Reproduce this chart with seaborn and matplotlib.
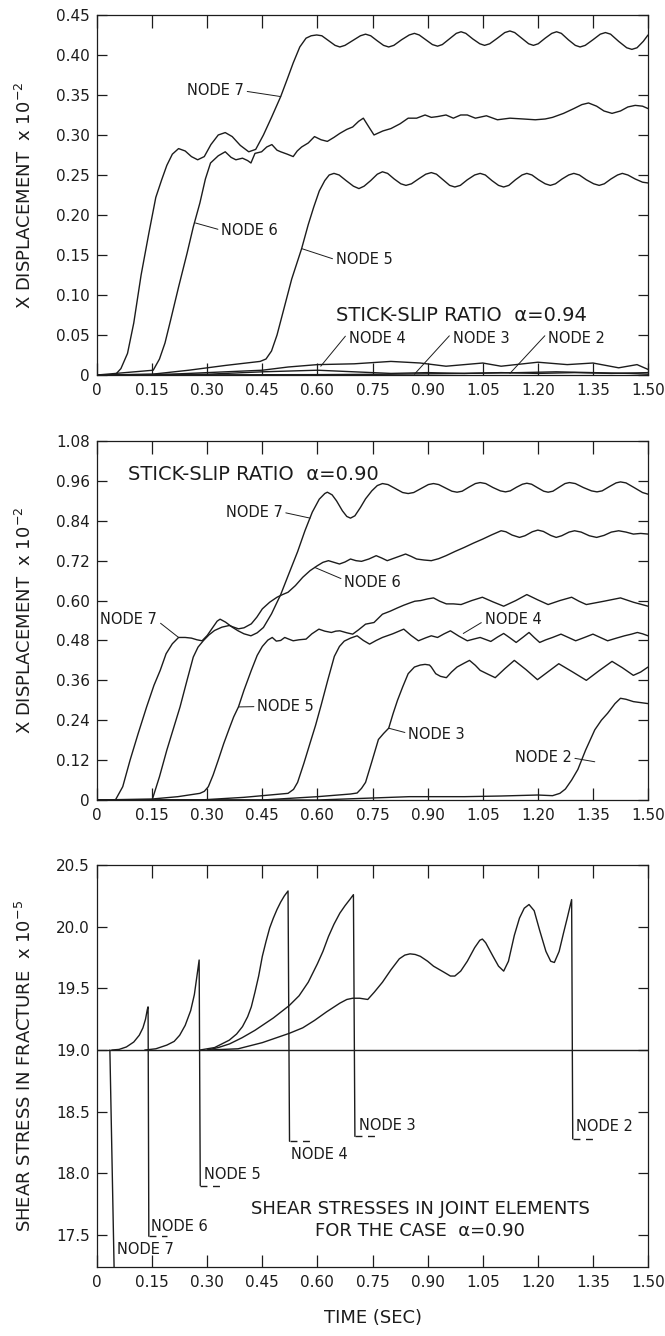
import seaborn as sns
import matplotlib.pyplot as plt

# --- data: (time, value) pairs ---------------------------------------------
x_ticks = [0, 0.15, 0.30, 0.45, 0.60, 0.75, 0.90, 1.05, 1.20, 1.35, 1.50]
x_labels = ['0', '0.15', '0.30', '0.45', '0.60', '0.75', '0.90', '1.05', '1.20', '1.35', '1.50']

y1_ticks = [0, 0.05, 0.10, 0.15, 0.20, 0.25, 0.30, 0.35, 0.40, 0.45]
y1_labels = ['0', '0.05', '0.10', '0.15', '0.20', '0.25', '0.30', '0.35', '0.40', '0.45']
y2_ticks = [0, 0.12, 0.24, 0.36, 0.48, 0.60, 0.72, 0.84, 0.96, 1.08]
y2_labels = ['0', '0.12', '0.24', '0.36', '0.48', '0.60', '0.72', '0.84', '0.96', '1.08']
y3_ticks = [17.5, 18.0, 18.5, 19.0, 19.5, 20.0, 20.5]
y3_labels = ['17.5', '18.0', '18.5', '19.0', '19.5', '20.0', '20.5']

# panel 1, alpha = 0.94
a_node7 = [(0, 0), (0.049, 0), (0.065, 0.008), (0.083, 0.027), (0.1, 0.065), (0.12, 0.125), (0.141, 0.177),
           (0.16, 0.222), (0.176, 0.244), (0.19, 0.262), (0.205, 0.276), (0.222, 0.283), (0.24, 0.28),
           (0.257, 0.273), (0.274, 0.269), (0.292, 0.273), (0.31, 0.288), (0.33, 0.3), (0.349, 0.303),
           (0.368, 0.298), (0.39, 0.287), (0.413, 0.279), (0.432, 0.282), (0.453, 0.3), (0.475, 0.322),
           (0.5, 0.348), (0.518, 0.37), (0.534, 0.39), (0.552, 0.41), (0.569, 0.421), (0.583, 0.424),
           (0.598, 0.425), (0.612, 0.424), (0.63, 0.418), (0.648, 0.412), (0.661, 0.41), (0.675, 0.412),
           (0.696, 0.418), (0.717, 0.424), (0.731, 0.426), (0.745, 0.424), (0.762, 0.418), (0.78, 0.412),
           (0.794, 0.41), (0.808, 0.412), (0.829, 0.419), (0.85, 0.425), (0.864, 0.427), (0.877, 0.425),
           (0.895, 0.419), (0.913, 0.413), (0.927, 0.411), (0.94, 0.413), (0.959, 0.42), (0.978, 0.427),
           (0.991, 0.429), (1.004, 0.427), (1.023, 0.42), (1.042, 0.414), (1.055, 0.412), (1.069, 0.414),
           (1.09, 0.421), (1.11, 0.428), (1.124, 0.43), (1.137, 0.428), (1.156, 0.421), (1.175, 0.414),
           (1.188, 0.412), (1.201, 0.414), (1.22, 0.421), (1.238, 0.427), (1.251, 0.429), (1.264, 0.427),
           (1.283, 0.419), (1.302, 0.412), (1.315, 0.41), (1.329, 0.412), (1.35, 0.419), (1.37, 0.426),
           (1.384, 0.428), (1.398, 0.426), (1.42, 0.417), (1.442, 0.409), (1.456, 0.407), (1.47, 0.409),
           (1.487, 0.417), (1.5, 0.425)]
a_node6 = [(0, 0), (0.153, 0.006), (0.17, 0.02), (0.185, 0.04), (0.2, 0.068), (0.222, 0.11), (0.245, 0.152),
           (0.262, 0.185), (0.28, 0.215), (0.295, 0.245), (0.309, 0.265), (0.33, 0.274), (0.349, 0.279),
           (0.365, 0.272), (0.378, 0.269), (0.396, 0.271), (0.41, 0.268), (0.419, 0.265), (0.43, 0.277),
           (0.448, 0.279), (0.462, 0.285), (0.476, 0.288), (0.49, 0.281), (0.5, 0.279), (0.518, 0.276),
           (0.534, 0.273), (0.545, 0.28), (0.557, 0.285), (0.575, 0.29), (0.592, 0.298), (0.61, 0.294),
           (0.627, 0.292), (0.645, 0.297), (0.661, 0.302), (0.68, 0.307), (0.696, 0.31), (0.712, 0.317),
           (0.725, 0.321), (0.74, 0.31), (0.754, 0.3), (0.778, 0.305), (0.8, 0.308), (0.825, 0.314),
           (0.847, 0.321), (0.87, 0.321), (0.893, 0.325), (0.91, 0.322), (0.927, 0.323), (0.95, 0.325),
           (0.97, 0.321), (0.99, 0.325), (1.008, 0.325), (1.03, 0.321), (1.06, 0.324), (1.09, 0.319),
           (1.124, 0.321), (1.16, 0.32), (1.193, 0.319), (1.22, 0.32), (1.24, 0.322), (1.27, 0.327),
           (1.298, 0.333), (1.32, 0.338), (1.338, 0.34), (1.36, 0.336), (1.38, 0.33), (1.402, 0.327),
           (1.425, 0.33), (1.445, 0.335), (1.465, 0.337), (1.485, 0.336), (1.5, 0.333)]
a_node5 = [(0, 0), (0.15, 0.001), (0.25, 0.006), (0.35, 0.012), (0.444, 0.017), (0.46, 0.02), (0.475, 0.03),
           (0.49, 0.05), (0.51, 0.085), (0.53, 0.12), (0.557, 0.158), (0.575, 0.188), (0.59, 0.21),
           (0.605, 0.23), (0.62, 0.243), (0.632, 0.25), (0.645, 0.252), (0.659, 0.25), (0.678, 0.243),
           (0.698, 0.236), (0.713, 0.233), (0.727, 0.236), (0.745, 0.243), (0.763, 0.251), (0.777, 0.254),
           (0.791, 0.252), (0.809, 0.245), (0.827, 0.239), (0.841, 0.237), (0.856, 0.239), (0.875, 0.245),
           (0.895, 0.251), (0.91, 0.253), (0.924, 0.251), (0.942, 0.244), (0.96, 0.237), (0.974, 0.235),
           (0.989, 0.237), (1.008, 0.244), (1.028, 0.25), (1.043, 0.252), (1.057, 0.25), (1.075, 0.243),
           (1.093, 0.237), (1.107, 0.235), (1.121, 0.237), (1.139, 0.244), (1.157, 0.25), (1.17, 0.252),
           (1.184, 0.25), (1.202, 0.244), (1.22, 0.239), (1.234, 0.237), (1.248, 0.239), (1.266, 0.245),
           (1.284, 0.25), (1.298, 0.252), (1.313, 0.25), (1.332, 0.244), (1.352, 0.239), (1.367, 0.237),
           (1.381, 0.239), (1.399, 0.245), (1.417, 0.25), (1.43, 0.252), (1.445, 0.25), (1.465, 0.245),
           (1.485, 0.241), (1.5, 0.24)]
a_node4 = [(0, 0), (0.2, 0.001), (0.3, 0.003), (0.45, 0.006), (0.52, 0.01), (0.6, 0.013), (0.7, 0.014),
           (0.8, 0.017), (0.88, 0.015), (0.95, 0.011), (1.05, 0.015), (1.1, 0.011), (1.2, 0.016),
           (1.28, 0.013), (1.35, 0.015), (1.42, 0.009), (1.47, 0.013), (1.5, 0.007)]
a_node3 = [(0, 0), (0.3, 0.001), (0.45, 0.004), (0.6, 0.006), (0.7, 0.004), (0.8, 0.002), (0.9, 0.003),
           (1.0, 0.002), (1.1, 0.003), (1.2, 0.002), (1.3, 0.003), (1.4, 0.002), (1.5, 0.003)]
a_node2 = [(0, 0), (0.6, 0.0005), (0.8, 0.001), (1.0, 0.002), (1.15, 0.003), (1.25, 0.004), (1.35, 0.003),
           (1.45, 0.002), (1.5, 0.001)]

# panel 2, alpha = 0.90
b_node7 = [(0, 0), (0.05, 0), (0.07, 0.04), (0.09, 0.12), (0.112, 0.2), (0.135, 0.28), (0.155, 0.345),
           (0.172, 0.39), (0.188, 0.44), (0.205, 0.47), (0.222, 0.489), (0.24, 0.489), (0.257, 0.487),
           (0.272, 0.482), (0.286, 0.479), (0.3, 0.495), (0.315, 0.519), (0.327, 0.538), (0.335, 0.544),
           (0.35, 0.535), (0.368, 0.52), (0.384, 0.509), (0.4, 0.5), (0.419, 0.494), (0.436, 0.503),
           (0.453, 0.519), (0.475, 0.56), (0.5, 0.618), (0.522, 0.68), (0.546, 0.747), (0.566, 0.81),
           (0.586, 0.866), (0.605, 0.905), (0.62, 0.922), (0.627, 0.926), (0.64, 0.918), (0.652, 0.9),
           (0.668, 0.87), (0.68, 0.853), (0.69, 0.848), (0.702, 0.855), (0.717, 0.88), (0.731, 0.906),
           (0.748, 0.93), (0.763, 0.946), (0.777, 0.952), (0.792, 0.949), (0.812, 0.937), (0.832, 0.925),
           (0.847, 0.922), (0.862, 0.925), (0.882, 0.937), (0.902, 0.949), (0.916, 0.952), (0.93, 0.949),
           (0.948, 0.939), (0.966, 0.929), (0.98, 0.926), (0.994, 0.929), (1.012, 0.941), (1.03, 0.952),
           (1.043, 0.955), (1.058, 0.952), (1.078, 0.94), (1.098, 0.93), (1.112, 0.927), (1.125, 0.93),
           (1.142, 0.941), (1.158, 0.95), (1.17, 0.953), (1.183, 0.95), (1.2, 0.939), (1.216, 0.929),
           (1.228, 0.926), (1.241, 0.929), (1.258, 0.941), (1.274, 0.952), (1.286, 0.955), (1.302, 0.952),
           (1.324, 0.94), (1.346, 0.93), (1.361, 0.927), (1.375, 0.93), (1.395, 0.943), (1.413, 0.954),
           (1.425, 0.957), (1.44, 0.954), (1.462, 0.94), (1.485, 0.925), (1.5, 0.92)]
b_node6 = [(0, 0), (0.15, 0), (0.17, 0.07), (0.19, 0.15), (0.208, 0.215), (0.226, 0.28), (0.245, 0.36),
           (0.262, 0.43), (0.275, 0.46), (0.29, 0.48), (0.305, 0.497), (0.32, 0.51), (0.34, 0.52),
           (0.36, 0.525), (0.372, 0.52), (0.385, 0.515), (0.4, 0.518), (0.42, 0.53), (0.435, 0.55),
           (0.45, 0.575), (0.47, 0.595), (0.49, 0.61), (0.505, 0.618), (0.52, 0.625), (0.54, 0.645),
           (0.56, 0.67), (0.58, 0.69), (0.6, 0.705), (0.615, 0.715), (0.63, 0.72), (0.645, 0.715),
           (0.66, 0.71), (0.675, 0.716), (0.69, 0.725), (0.705, 0.72), (0.72, 0.718), (0.74, 0.725),
           (0.76, 0.735), (0.775, 0.728), (0.79, 0.72), (0.815, 0.73), (0.84, 0.74), (0.855, 0.733),
           (0.87, 0.725), (0.89, 0.722), (0.91, 0.72), (0.93, 0.726), (0.95, 0.735), (0.975, 0.748),
           (1.0, 0.76), (1.025, 0.773), (1.05, 0.785), (1.075, 0.798), (1.1, 0.81), (1.113, 0.807),
           (1.13, 0.797), (1.15, 0.79), (1.165, 0.795), (1.185, 0.807), (1.2, 0.812), (1.215, 0.808),
           (1.235, 0.796), (1.25, 0.79), (1.265, 0.795), (1.285, 0.806), (1.3, 0.81), (1.318, 0.806),
           (1.34, 0.795), (1.36, 0.79), (1.38, 0.796), (1.4, 0.806), (1.42, 0.81), (1.44, 0.806),
           (1.46, 0.8), (1.48, 0.802), (1.5, 0.8)]
b_node5 = [(0, 0), (0.15, 0.003), (0.22, 0.01), (0.28, 0.02), (0.292, 0.026), (0.303, 0.04),
           (0.316, 0.075), (0.33, 0.12), (0.345, 0.17), (0.36, 0.215), (0.372, 0.25), (0.385, 0.28),
           (0.4, 0.33), (0.42, 0.39), (0.436, 0.435), (0.45, 0.462), (0.465, 0.481), (0.477, 0.489),
           (0.488, 0.478), (0.5, 0.48), (0.511, 0.489), (0.522, 0.484), (0.534, 0.479), (0.55, 0.482),
           (0.569, 0.484), (0.585, 0.5), (0.604, 0.514), (0.62, 0.508), (0.638, 0.504), (0.65, 0.508),
           (0.661, 0.509), (0.68, 0.503), (0.696, 0.499), (0.712, 0.512), (0.731, 0.529), (0.754, 0.534),
           (0.777, 0.559), (0.798, 0.568), (0.818, 0.578), (0.835, 0.586), (0.852, 0.593), (0.865, 0.598),
           (0.881, 0.6), (0.9, 0.605), (0.916, 0.608), (0.933, 0.598), (0.951, 0.59), (0.97, 0.59),
           (0.991, 0.588), (1.02, 0.6), (1.049, 0.61), (1.078, 0.596), (1.107, 0.583), (1.14, 0.6),
           (1.17, 0.618), (1.2, 0.602), (1.228, 0.588), (1.26, 0.6), (1.292, 0.61), (1.312, 0.598),
           (1.332, 0.588), (1.38, 0.598), (1.425, 0.608), (1.46, 0.595), (1.5, 0.583)]
b_node4 = [(0, 0), (0.28, 0.0), (0.4, 0.008), (0.52, 0.02), (0.535, 0.032), (0.546, 0.053), (0.563, 0.11),
           (0.581, 0.175), (0.595, 0.225), (0.61, 0.285), (0.628, 0.36), (0.646, 0.432), (0.66, 0.462),
           (0.673, 0.478), (0.69, 0.487), (0.708, 0.494), (0.725, 0.48), (0.742, 0.469), (0.76, 0.48),
           (0.777, 0.489), (0.805, 0.5), (0.835, 0.514), (0.855, 0.495), (0.875, 0.479), (0.895, 0.488),
           (0.91, 0.494), (0.927, 0.489), (0.945, 0.5), (0.962, 0.509), (0.985, 0.493), (1.008, 0.479),
           (1.025, 0.484), (1.043, 0.489), (1.072, 0.477), (1.09, 0.49), (1.107, 0.501), (1.125, 0.487),
           (1.141, 0.474), (1.16, 0.49), (1.176, 0.504), (1.19, 0.489), (1.205, 0.474), (1.222, 0.482),
           (1.24, 0.489), (1.263, 0.499), (1.283, 0.489), (1.303, 0.479), (1.327, 0.489), (1.35, 0.499),
           (1.37, 0.489), (1.39, 0.479), (1.414, 0.487), (1.436, 0.494), (1.455, 0.499), (1.471, 0.504),
           (1.485, 0.5), (1.5, 0.494)]
b_node3 = [(0, 0), (0.45, 0), (0.6, 0.01), (0.69, 0.018), (0.708, 0.021), (0.72, 0.035), (0.731, 0.053),
           (0.748, 0.115), (0.766, 0.182), (0.78, 0.2), (0.794, 0.216), (0.806, 0.26), (0.818, 0.3),
           (0.832, 0.34), (0.847, 0.38), (0.864, 0.4), (0.88, 0.406), (0.893, 0.408), (0.905, 0.406),
           (0.91, 0.4), (0.922, 0.38), (0.935, 0.372), (0.951, 0.368), (0.965, 0.385), (0.98, 0.4),
           (1.0, 0.412), (1.014, 0.42), (1.03, 0.405), (1.043, 0.39), (1.065, 0.378), (1.084, 0.368),
           (1.11, 0.395), (1.136, 0.42), (1.168, 0.392), (1.199, 0.362), (1.228, 0.386), (1.257, 0.41),
           (1.295, 0.385), (1.332, 0.36), (1.368, 0.39), (1.402, 0.417), (1.43, 0.398), (1.46, 0.375),
           (1.48, 0.385), (1.5, 0.4)]
b_node2 = [(0, 0), (0.6, 0), (0.75, 0.006), (0.85, 0.01), (1.0, 0.01), (1.1, 0.012), (1.2, 0.015),
           (1.24, 0.013), (1.26, 0.02), (1.275, 0.033), (1.292, 0.06), (1.309, 0.092), (1.33, 0.15),
           (1.355, 0.211), (1.373, 0.24), (1.39, 0.261), (1.41, 0.29), (1.425, 0.306), (1.44, 0.303),
           (1.46, 0.296), (1.5, 0.29)]

# panel 3, shear stress, alpha = 0.90 (rise, peak, then drop to the residual value)
c_base = [(0, 19.0), (1.5, 19.0)]
c_node7 = [(0.035, 19.0), (0.048, 17.0)]
c_node6 = [(0.04, 19.0), (0.06, 19.005), (0.08, 19.025), (0.1, 19.065), (0.115, 19.12), (0.125, 19.18),
           (0.132, 19.25), (0.137, 19.33), (0.139, 19.35), (0.141, 17.49)]
c_node5 = [(0.13, 19.0), (0.16, 19.01), (0.19, 19.04), (0.21, 19.07), (0.225, 19.12), (0.24, 19.2),
           (0.255, 19.32), (0.265, 19.45), (0.272, 19.6), (0.278, 19.73), (0.281, 17.9)]
c_node4 = [(0.28, 19.0), (0.32, 19.02), (0.36, 19.08), (0.38, 19.13), (0.396, 19.19), (0.41, 19.27),
           (0.42, 19.35), (0.43, 19.47), (0.44, 19.6), (0.45, 19.76), (0.46, 19.88), (0.47, 19.99),
           (0.48, 20.07), (0.49, 20.14), (0.5, 20.2), (0.51, 20.25), (0.52, 20.29), (0.524, 18.26)]
c_node3 = [(0.3, 19.0), (0.33, 19.02), (0.361, 19.05), (0.395, 19.1), (0.43, 19.16), (0.48, 19.26),
           (0.523, 19.36), (0.55, 19.44), (0.575, 19.55), (0.6, 19.7), (0.615, 19.8), (0.63, 19.92),
           (0.645, 20.02), (0.661, 20.11), (0.675, 20.17), (0.688, 20.22), (0.698, 20.26), (0.702, 18.3)]
c_node2 = [(0.3, 19.0), (0.384, 19.01), (0.45, 19.06), (0.523, 19.135), (0.56, 19.18), (0.592, 19.24),
           (0.625, 19.31), (0.661, 19.38), (0.68, 19.41), (0.696, 19.42), (0.715, 19.42), (0.737, 19.41),
           (0.755, 19.47), (0.777, 19.55), (0.8, 19.65), (0.823, 19.74), (0.838, 19.77), (0.852, 19.78),
           (0.866, 19.775), (0.88, 19.76), (0.9, 19.72), (0.916, 19.68), (0.945, 19.63), (0.962, 19.6),
           (0.974, 19.6), (0.99, 19.64), (1.008, 19.72), (1.028, 19.83), (1.042, 19.89), (1.049, 19.9),
           (1.058, 19.87), (1.078, 19.76), (1.093, 19.68), (1.107, 19.64), (1.12, 19.72), (1.136, 19.93),
           (1.15, 20.07), (1.163, 20.15), (1.176, 20.18), (1.19, 20.13), (1.205, 19.97), (1.222, 19.8),
           (1.235, 19.72), (1.245, 19.71), (1.258, 19.8), (1.27, 19.95), (1.28, 20.07), (1.292, 20.22),
           (1.295, 18.28)]
# residual tails, drawn dashed: (start, end, value)
c_tails = [(0.141, 0.19, 17.49), (0.281, 0.335, 17.9), (0.524, 0.59, 18.26),
           (0.702, 0.765, 18.3), (1.295, 1.355, 18.28)]

INK = '#1c1c1c'

sns.set_style('ticks')
plt.rcParams['font.family'] = ['DejaVu Sans']
plt.rcParams['mathtext.fontset'] = 'dejavusans'

fig = plt.figure(figsize=(6.65, 13.36), dpi=100)
ax1 = fig.add_axes([0.1459, 0.7193, 0.8286, 0.2695])
ax2 = fig.add_axes([0.1459, 0.4012, 0.8286, 0.2687])
ax3 = fig.add_axes([0.1459, 0.0516, 0.8286, 0.3009])


def draw(ax, pts, **kw):
    t = [p[0] for p in pts]
    y = [p[1] for p in pts]
    sns.lineplot(x=t, y=y, ax=ax, color=INK, lw=1.0, sort=False, estimator=None, **kw)


def note(ax, txt, xy, xytext, ha='left', rel=(0, 0.5)):
    ax.annotate(txt, xy=xy, xytext=xytext, ha=ha, va='center', fontsize=10.5, color=INK,
                arrowprops=dict(arrowstyle='-', lw=0.7, color=INK, shrinkA=0, shrinkB=0, relpos=rel))


def frame(ax, yt, yl, ylim):
    ax.set_xlim(0, 1.5)
    ax.set_ylim(*ylim)
    ax.set_xticks(x_ticks, x_labels)
    ax.set_yticks(yt, yl)
    ax.tick_params(axis='x', direction='in', length=9, width=0.9, top=True, labelsize=11,
                   colors=INK, pad=6)
    ax.tick_params(axis='y', direction='in', length=7, width=0.9, right=True, labelsize=11,
                   colors=INK, pad=5)
    for s in ax.spines.values():
        s.set_visible(True)
        s.set_linewidth(0.9)
        s.set_color(INK)
    ax.set_xlabel('')
    ax.yaxis.set_label_coords(-0.113, 0.5)


# panel 1
for pts in [a_node7, a_node6, a_node5, a_node4, a_node3, a_node2]:
    draw(ax1, pts)
frame(ax1, y1_ticks, y1_labels, (0, 0.45))
ax1.set_ylabel('X DISPLACEMENT  x 10$^{-2}$', fontsize=13, color=INK)
note(ax1, 'NODE 7', (0.50, 0.348), (0.40, 0.355), ha='right', rel=(1, 0.5))
note(ax1, 'NODE 6', (0.268, 0.19), (0.338, 0.181))
note(ax1, 'NODE 5', (0.557, 0.158), (0.65, 0.144))
note(ax1, 'NODE 4', (0.609, 0.011), (0.685, 0.046), rel=(0, 0.9))
note(ax1, 'NODE 3', (0.864, 0.001), (0.968, 0.046), rel=(0, 0.9))
note(ax1, 'NODE 2', (1.124, 0.002), (1.228, 0.046), rel=(0, 0.9))
ax1.text(0.65, 0.075, 'STICK-SLIP RATIO  α=0.94', fontsize=14, color=INK, va='center')

# panel 2
for pts in [b_node7, b_node6, b_node5, b_node4, b_node3, b_node2]:
    draw(ax2, pts)
frame(ax2, y2_ticks, y2_labels, (0, 1.08))
ax2.set_ylabel('X DISPLACEMENT  x 10$^{-2}$', fontsize=13, color=INK)
ax2.text(0.083, 0.98, 'STICK-SLIP RATIO  α=0.90', fontsize=14, color=INK, va='center')
note(ax2, 'NODE 7', (0.58, 0.848), (0.505, 0.866), ha='right', rel=(1, 0.5))
note(ax2, 'NODE 6', (0.592, 0.70), (0.673, 0.653), rel=(0, 0.7))
note(ax2, 'NODE 7', (0.222, 0.489), (0.164, 0.544), ha='right', rel=(1, 0.4))
note(ax2, 'NODE 4', (0.997, 0.501), (1.055, 0.544), rel=(0, 0.4))
note(ax2, 'NODE 5', (0.385, 0.28), (0.436, 0.281), rel=(0, 0.5))
note(ax2, 'NODE 3', (0.794, 0.216), (0.847, 0.196), rel=(0, 0.6))
note(ax2, 'NODE 2', (1.355, 0.115), (1.292, 0.127), ha='right', rel=(1, 0.5))

# panel 3
for pts in [c_base, c_node7, c_node6, c_node5, c_node4, c_node3, c_node2]:
    draw(ax3, pts)
for t0, t1, v in c_tails:
    draw(ax3, [(t0, v), (t1, v)], linestyle=(0, (5, 4)))
frame(ax3, y3_ticks, y3_labels, (17.24, 20.5))
ax3.set_ylabel('SHEAR STRESS IN FRACTURE  x 10$^{-5}$', fontsize=13, color=INK)
ax3.set_xlabel('TIME (SEC)', fontsize=13, color=INK)
ax3.xaxis.set_label_coords(0.5, -0.105)
for txt, tx, ty in [('NODE 7', 0.055, 17.38), ('NODE 6', 0.148, 17.57), ('NODE 5', 0.29, 17.99),
                    ('NODE 4', 0.528, 18.15), ('NODE 3', 0.712, 18.39), ('NODE 2', 1.305, 18.38)]:
    ax3.text(tx, ty, txt, fontsize=10.5, color=INK, va='center')
ax3.text(0.88, 17.62, 'SHEAR STRESSES IN JOINT ELEMENTS\nFOR THE CASE  α=0.90', fontsize=13,
         color=INK, ha='center', va='center', linespacing=1.3)

fig.savefig('out.png', dpi=100, facecolor='white')
